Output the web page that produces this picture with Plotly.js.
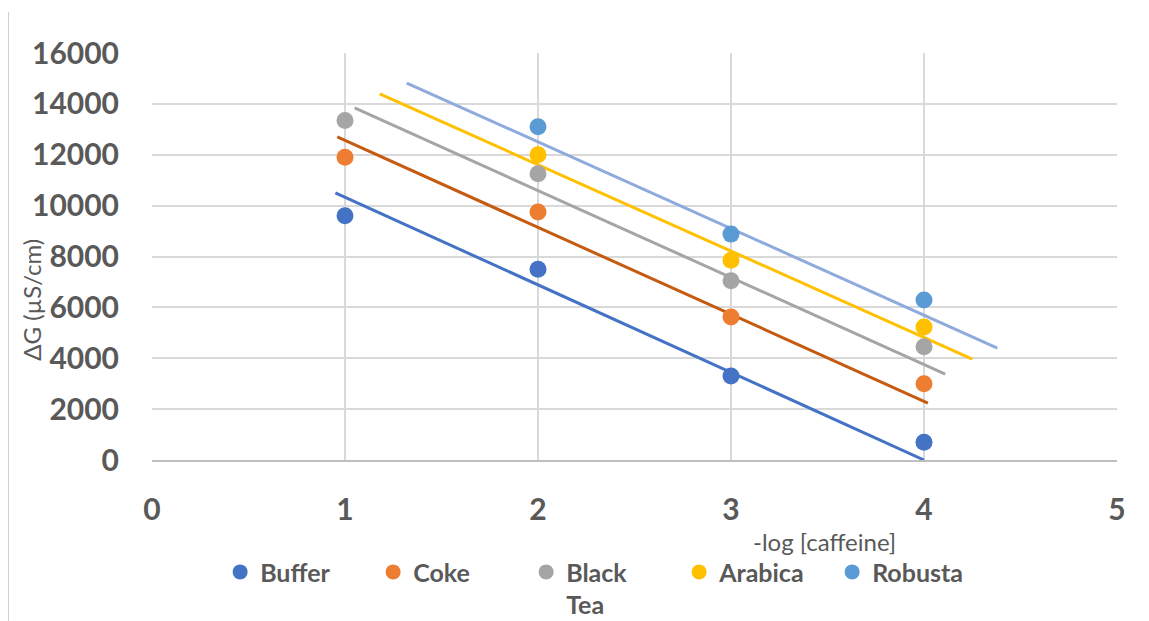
<!DOCTYPE html>
<html>
<head>
<meta charset="utf-8">
<script src="https://cdn.plot.ly/plotly-3.0.1.min.js"></script>
<style>
  html, body { margin: 0; padding: 0; background: #fff; }
  #wrap { position: relative; width: 1149px; height: 621px; }
  #edge { position: absolute; left: 8px; top: 12px; width: 1px; height: 609px; background: #D0D0D0; }
  #chart { position: absolute; left: 0; top: 0; width: 1149px; height: 621px; }
</style>
</head>
<body>
<div id="wrap"><div id="chart"></div><div id="edge"></div></div>
<script>
// -log[caffeine]
const xVals = [1, 2, 3, 4];
const xValsCoffee = [2, 3, 4];

// ΔG (µS/cm) per sample
const buffer   = [9600, 7500, 3300, 700];
const coke     = [11900, 9750, 5620, 3000];
const blackTea = [13350, 11250, 7050, 4450];
const arabica  = [12000, 7850, 5230];
const robusta  = [13100, 8880, 6290];

// Trendline endpoints [start, end] as drawn
const bufferTrendX   = [0.95, 4.0],  bufferTrendY   = [10500, 0];
const cokeTrendX     = [0.96, 4.02], cokeTrendY     = [12700, 2240];
const blackTeaTrendX = [1.05, 4.11], blackTeaTrendY = [13840, 3380];
const arabicaTrendX  = [1.18, 4.25], arabicaTrendY  = [14390, 3970];
const robustaTrendX  = [1.32, 4.38], robustaTrendY  = [14820, 4400];

const names = ['Buffer', 'Coke', 'Black<br>Tea', 'Arabica', 'Robusta'];
const markerColors = ['#4472C4', '#ED7D31', '#A5A5A5', '#FFC000', '#5B9BD5'];
const lineColors = ['#4472C4', '#C55A11', '#A5A5A5', '#FFC000', '#8FAADC'];

const series = [
  {x: xVals, y: buffer, tx: bufferTrendX, ty: bufferTrendY},
  {x: xVals, y: coke, tx: cokeTrendX, ty: cokeTrendY},
  {x: xVals, y: blackTea, tx: blackTeaTrendX, ty: blackTeaTrendY},
  {x: xValsCoffee, y: arabica, tx: arabicaTrendX, ty: arabicaTrendY},
  {x: xValsCoffee, y: robusta, tx: robustaTrendX, ty: robustaTrendY}
];

const traces = [];
series.forEach((s, i) => {
  traces.push({
    x: s.tx, y: s.ty, type: 'scatter', mode: 'lines',
    line: {color: lineColors[i], width: 3}, showlegend: false, hoverinfo: 'skip'
  });
});
series.forEach((s, i) => {
  traces.push({
    x: s.x, y: s.y, type: 'scatter', mode: 'markers',
    marker: {color: markerColors[i], size: 17}, showlegend: false
  });
});
series.forEach((s, i) => {
  traces.push({
    x: [null], y: [null], type: 'scatter', mode: 'markers', name: names[i],
    marker: {color: markerColors[i], size: 15}, showlegend: true
  });
});

const tickFont = {family: 'Lato, "Open Sans", sans-serif', size: 30, color: '#595959', weight: 'bold'};

const layout = {
  width: 1149, height: 621,
  margin: {l: 152, r: 32, t: 53, b: 161, autoexpand: false},
  paper_bgcolor: '#FFFFFF', plot_bgcolor: '#FFFFFF',
  font: {family: 'Lato, "Open Sans", sans-serif', color: '#595959'},
  xaxis: {
    range: [0, 5], dtick: 1, tick0: 0,
    showgrid: true, gridcolor: '#D9D9D9', gridwidth: 2,
    zeroline: false, showline: true, linecolor: '#BFBFBF', linewidth: 2,
    ticks: '', tickfont: tickFont, ticklabelstandoff: 22,
    fixedrange: true
  },
  yaxis: {
    range: [0, 16000], dtick: 2000, tick0: 0, tickformat: 'd',
    showgrid: true, gridcolor: '#D9D9D9', gridwidth: 2,
    zeroline: false, showline: false,
    ticks: '', tickfont: tickFont, ticklabelstandoff: 32,
    fixedrange: true
  },
  showlegend: true,
  legend: {
    orientation: 'h', x: 0.0706, xanchor: 'left', y: -0.219, yanchor: 'top',
    font: {family: 'Lato, "Open Sans", sans-serif', size: 25, color: '#595959', weight: 'bold'},
    entrywidth: 108, entrywidthmode: 'pixels', valign: 'top',
    itemclick: false, itemdoubleclick: false
  },
  annotations: [
    {
      text: '-log [caffeine]', xref: 'paper', yref: 'paper',
      x: (823 - 152) / 963, y: (460 - 541) / 407, xanchor: 'center', yanchor: 'middle',
      showarrow: false, font: {family: 'Lato, "Open Sans", sans-serif', size: 24, color: '#595959'}
    },
    {
      text: 'ΔG (µS/cm)', xref: 'paper', yref: 'paper', textangle: -90,
      x: (31 - 152) / 963, y: (460 - 300) / 407, xanchor: 'center', yanchor: 'middle',
      showarrow: false, font: {family: 'Lato, "Open Sans", sans-serif', size: 24, color: '#595959'}
    }
  ]
};

Plotly.newPlot('chart', traces, layout, {displayModeBar: false, staticPlot: true});
</script>
</body>
</html>
